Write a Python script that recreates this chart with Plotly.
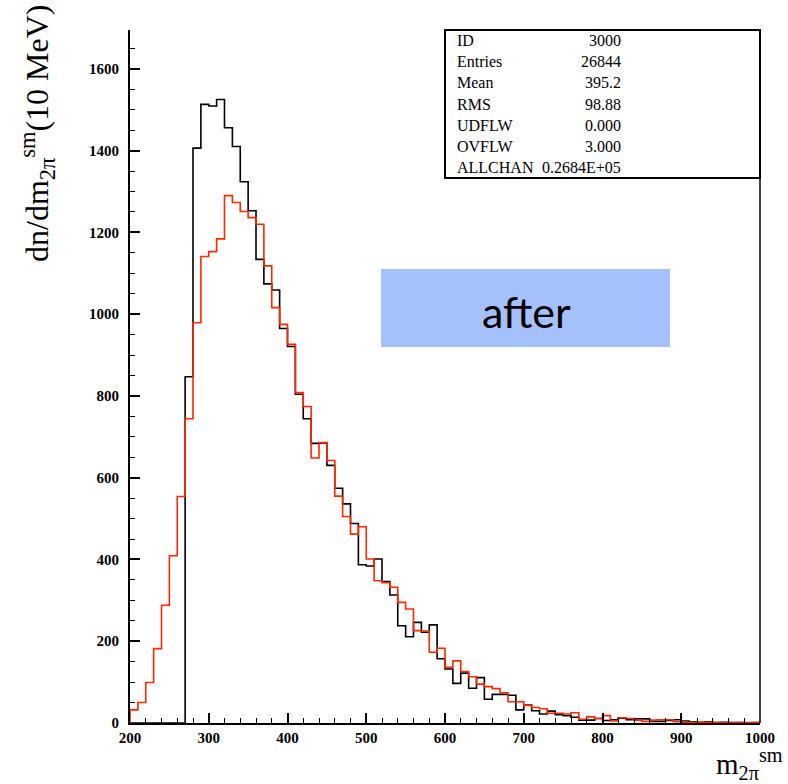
import plotly.graph_objects as go

# 10 MeV bins from 200 to 1000 MeV (lower edges)
bin_lo = list(range(200, 1000, 10))
bin_width = 10

# Histogram contents, black (ID 3000)
counts_black = [
    0, 0, 0, 0, 0, 0, 0, 847, 1406, 1513,
    1509, 1525, 1456, 1410, 1324, 1253, 1134, 1074, 1059, 965,
    921, 804, 744, 684, 685, 630, 574, 536, 488, 387,
    384, 401, 346, 313, 238, 211, 246, 222, 240, 157,
    132, 97, 122, 85, 111, 58, 70, 70, 68, 32,
    44, 30, 22, 29, 20, 18, 14, 7, 7, 11,
    6, 8, 12, 8, 10, 10, 4, 4, 6, 8,
    5, 3, 2, 3, 1, 2, 1, 1, 0, 1,
]

# Histogram contents, red overlay
counts_red = [
    32, 50, 99, 182, 288, 409, 554, 744, 979, 1141,
    1153, 1184, 1290, 1273, 1251, 1236, 1220, 1118, 1016, 975,
    926, 808, 774, 648, 686, 642, 555, 505, 462, 480,
    401, 348, 343, 332, 295, 279, 226, 225, 173, 183,
    136, 152, 126, 113, 95, 89, 84, 74, 52, 52,
    43, 38, 35, 24, 24, 22, 25, 9, 15, 11,
    18, 5, 13, 11, 7, 4, 7, 8, 8, 3,
    2, 2, 2, 2, 1, 1, 1, 1, 1, 1,
]

stats_labels = ["ID", "Entries", "Mean", "RMS", "UDFLW", "OVFLW", "ALLCHAN"]
stats_values = ["3000", "26844", "395.2", "98.88", "0.000", "3.000", "0.2684E+05"]

x_range = [200, 1000]
y_range = [0, 1695]

# plot-area geometry in pixels (used to place boxes and labels)
PL, PR, PT, PB = 130, 760, 30, 723


def px(xp):
    return (xp - PL) / (PR - PL)


def py(yp):
    return (PB - yp) / (PB - PT)


def step_xy(lo, counts, width):
    """Outline of a histogram: start and end on the baseline."""
    xs = [lo[0]]
    ys = [0]
    for x0, c in zip(lo, counts):
        xs.append(x0)
        ys.append(c)
    xs.append(lo[-1] + width)
    ys.append(counts[-1])
    xs.append(lo[-1] + width)
    ys.append(0)
    return xs, ys


fig = go.Figure()

for counts, color in ((counts_black, "black"), (counts_red, "rgb(255,40,0)")):
    xs, ys = step_xy(bin_lo, counts, bin_width)
    fig.add_trace(go.Scatter(
        x=xs, y=ys, mode="lines",
        line=dict(color=color, width=1.6, shape="hv"),
        hoverinfo="skip", showlegend=False,
    ))

tick_font = dict(family="Liberation Serif", size=15, color="black", weight="bold")

fig.update_xaxes(
    range=x_range, tickvals=list(range(200, 1001, 100)),
    ticks="inside", ticklen=10, tickwidth=1.5, tickcolor="black",
    minor=dict(dtick=20, tick0=200, ticks="inside", ticklen=5, tickwidth=1.2, tickcolor="black"),
    showline=True, linecolor="black", linewidth=2,
    showgrid=False, zeroline=False, tickfont=tick_font,
)
fig.update_yaxes(
    range=y_range, tickvals=list(range(0, 1601, 200)),
    ticks="inside", ticklen=10, tickwidth=1.5, tickcolor="black",
    minor=dict(dtick=50, tick0=0, ticks="inside", ticklen=5, tickwidth=1.2, tickcolor="black"),
    showline=True, linecolor="black", linewidth=2,
    showgrid=False, zeroline=False, tickfont=tick_font,
    ticklabelstandoff=6,
)

shapes = [
    # right frame edge
    dict(type="line", xref="paper", yref="paper", x0=1, x1=1, y0=0, y1=1,
         line=dict(color="black", width=1.5)),
    # statistics box
    dict(type="rect", xref="paper", yref="paper",
         x0=px(445), x1=1, y0=py(178), y1=1,
         line=dict(color="black", width=2), fillcolor="white"),
    # "after" label panel
    dict(type="rect", xref="paper", yref="paper",
         x0=px(381), x1=px(670), y0=py(347), y1=py(269),
         line=dict(width=0), fillcolor="rgb(164,192,253)", layer="above"),
]

annotations = []
stats_font = dict(family="Liberation Serif", size=16, color="black")
for i, (lab, val) in enumerate(zip(stats_labels, stats_values)):
    yrow = py(40.5 + i * 21.2)
    annotations.append(dict(text=lab, xref="paper", yref="paper",
                            x=px(455), y=yrow, xanchor="left", yanchor="middle",
                            showarrow=False, font=stats_font))
    annotations.append(dict(text=val, xref="paper", yref="paper",
                            x=px(623), y=yrow, xanchor="right", yanchor="middle",
                            showarrow=False, font=stats_font))

annotations.append(dict(
    text="after", xref="paper", yref="paper",
    x=px(526), y=py(311), xanchor="center", yanchor="middle",
    showarrow=False, font=dict(family="Lato", size=43, color="black"),
))

annotations.append(dict(
    text="dn/dm<sub>2π</sub><sup>sm</sup>(10 MeV)", xref="paper", yref="paper",
    x=px(37), y=py(264), xanchor="center", yanchor="bottom",
    textangle=-90, showarrow=False,
    font=dict(family="Liberation Serif", size=32, color="black"),
))

annotations.append(dict(
    text="m<sub>2π</sub><sup>sm</sup>", xref="paper", yref="paper",
    x=px(785), y=py(764), xanchor="right", yanchor="middle",
    showarrow=False,
    font=dict(family="Liberation Serif", size=29, color="black"),
))

fig.update_layout(
    width=788, height=784,
    margin=dict(l=PL, r=788 - PR, t=PT, b=784 - PB),
    paper_bgcolor="white", plot_bgcolor="white",
    shapes=shapes, annotations=annotations,
    showlegend=False,
)

fig.write_html("out.html")
